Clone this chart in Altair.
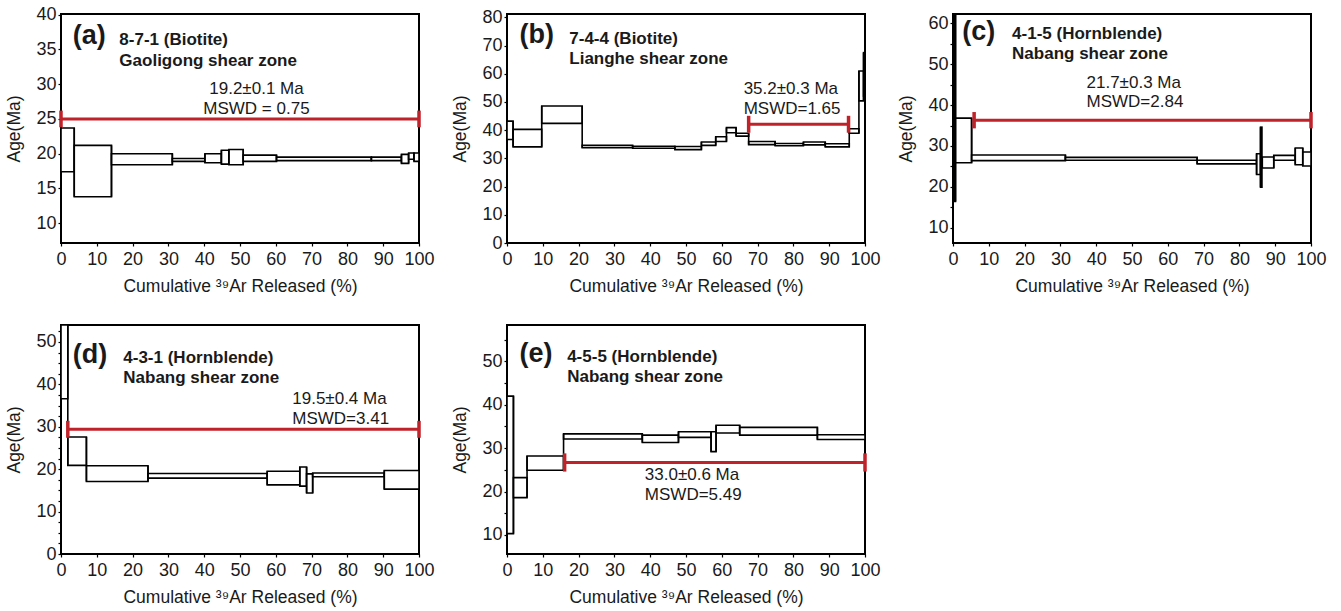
import altair as alt
import pandas as pd

FONT = "Liberation Sans"
RED = "#c0222a"
INK = "#1a1a1a"
X_TITLE = "Cumulative ³⁹Ar Released (%)"
Y_TITLE = "Age(Ma)"
PANEL_W = 358
PANEL_H = 229

# ---------------- (a) 8-7-1 biotite, Gaoligong shear zone ----------------
a_start = [0.0, 3.7, 14.1, 31.1, 40.2, 44.8, 46.9, 50.9, 60.2, 86.7, 95.1, 97.1, 98.6]
a_end = [3.7, 14.1, 31.1, 40.2, 44.8, 46.9, 50.9, 60.2, 86.7, 95.1, 97.1, 98.6, 100.0]
a_low = [17.4, 13.8, 18.4, 18.9, 18.7, 18.5, 18.4, 18.9, 19.0, 19.0, 18.6, 19.2, 18.9]
a_high = [23.7, 21.2, 20.0, 19.3, 20.0, 20.5, 20.6, 19.8, 19.5, 19.5, 19.9, 20.1, 20.1]
a_fill = ["white"] * 13

# ---------------- (b) 7-4-4 biotite, Lianghe shear zone ----------------
b_start = [0.0, 1.7, 9.7, 21.0, 35.1, 46.9, 54.3, 58.3, 61.3, 64.0, 67.5, 74.9, 82.8, 88.9, 95.6, 98.3, 99.6]
b_end = [1.7, 9.7, 21.0, 35.1, 46.9, 54.3, 58.3, 61.3, 64.0, 67.5, 74.9, 82.8, 88.9, 95.6, 98.3, 99.6, 100.0]
b_low = [36.7, 34.1, 42.4, 33.8, 33.6, 33.1, 34.6, 36.0, 39.1, 37.9, 34.9, 34.5, 34.8, 34.1, 38.9, 50.4, 52.1]
b_high = [43.2, 40.3, 48.6, 34.6, 34.3, 34.2, 35.8, 37.7, 40.9, 38.9, 36.0, 35.3, 35.8, 35.2, 40.5, 61.0, 67.5]
b_fill = ["white"] * 16 + ["black"]

# ---------------- (c) 4-1-5 hornblende, Nabang shear zone ----------------
c_start = [0.0, 0.7, 5.2, 31.4, 68.2, 84.8, 85.9, 86.4, 89.6, 95.6, 97.7]
c_end = [0.7, 5.2, 31.4, 68.2, 84.8, 85.9, 86.3, 89.6, 95.6, 97.7, 100.0]
c_low = [16.4, 25.9, 26.4, 26.5, 25.6, 23.0, 19.9, 24.6, 26.5, 25.4, 25.1]
c_high = [63.5, 36.8, 27.8, 27.2, 26.5, 28.1, 34.6, 27.3, 27.7, 29.5, 28.5]
c_fill = ["black", "white", "white", "white", "white", "white", "black", "white", "white", "white", "white"]

# ---------------- (d) 4-3-1 hornblende, Nabang shear zone ----------------
d_start = [0.0, 1.9, 7.1, 24.3, 57.6, 66.7, 68.6, 70.3, 90.3]
d_end = [1.9, 7.1, 24.3, 57.6, 66.7, 68.6, 70.3, 90.3, 100.0]
d_low = [36.6, 20.9, 17.1, 17.9, 16.3, 16.0, 14.4, 18.2, 15.3]
d_high = [54.0, 27.6, 20.8, 19.0, 19.5, 20.5, 18.9, 19.1, 19.7]
d_fill = ["white"] * 9

# ---------------- (e) 4-5-5 hornblende, Nabang shear zone ----------------
e_start = [0.0, 1.8, 5.6, 15.8, 37.8, 47.9, 57.0, 58.4, 65.0, 86.7]
e_end = [1.8, 5.6, 15.8, 37.8, 47.9, 57.0, 58.4, 65.0, 86.7, 100.0]
e_low = [10.3, 18.6, 24.9, 32.1, 31.3, 32.5, 29.2, 33.5, 33.0, 32.0]
e_high = [42.0, 23.2, 28.2, 33.3, 33.0, 33.8, 33.8, 35.3, 34.8, 33.1]
e_fill = ["white"] * 10

# plateau brackets: x from, x to, level, half cap height
plateaus = {
    "a": (0.0, 100.0, 25.0, 1.2),
    "b": (67.5, 95.4, 42.1, 3.0),
    "c": (5.9, 100.0, 36.3, 2.0),
    "d": (1.9, 100.0, 29.4, 2.0),
    "e": (16.1, 100.0, 26.7, 2.1),
}

# plateau age and MSWD text
results = {
    "a": (["19.2±0.1 Ma", "MSWD = 0.75"], 54.6, [29.3, 26.4], "center"),
    "b": (["35.2±0.3 Ma", "MSWD=1.65"], 66.1, [54.7, 47.6], "left"),
    "c": (["21.7±0.3 Ma", "MSWD=2.84"], 37.3, [45.5, 40.8], "left"),
    "d": (["19.5±0.4 Ma", "MSWD=3.41"], 64.6, [36.6, 31.8], "left"),
    "e": (["33.0±0.6 Ma", "MSWD=5.49"], 38.5, [23.8, 19.2], "left"),
}

# sample headings: letter x, letter y, heading x, heading line ys, lines
headings = {
    "a": (3.3, 36.9, 16.3, [36.4, 33.4], ["8-7-1 (Biotite)", "Gaoligong shear zone"]),
    "b": (3.5, 73.8, 17.4, [72.3, 65.2], ["7-4-4 (Biotite)", "Lianghe shear zone"]),
    "c": (2.6, 57.9, 16.5, [57.5, 52.4], ["4-1-5 (Hornblende)", "Nabang shear zone"]),
    "d": (3.3, 47.0, 17.4, [46.2, 41.5], ["4-3-1 (Hornblende)", "Nabang shear zone"]),
    "e": (3.5, 51.8, 16.8, [51.0, 46.4], ["4-5-5 (Hornblende)", "Nabang shear zone"]),
}

# y scale of each panel: domain, tick values, label every n
y_scales = {
    "a": ([7.15, 40.1], [10, 15, 20, 25, 30, 35, 40], 5),
    "b": ([0, 81.2], list(range(0, 81, 10)), 10),
    "c": ([6.24, 62.3], list(range(10, 61, 5)), 10),
    "d": ([0, 54.0], [i * 2.5 for i in range(22)], 10),
    "e": ([5.6, 58.4], list(range(10, 56, 5)), 10),
}

steps = {
    "a": (a_start, a_end, a_low, a_high, a_fill),
    "b": (b_start, b_end, b_low, b_high, b_fill),
    "c": (c_start, c_end, c_low, c_high, c_fill),
    "d": (d_start, d_end, d_low, d_high, d_fill),
    "e": (e_start, e_end, e_low, e_high, e_fill),
}


def connectors(start, end, low, high):
    """Vertical risers joining neighbouring heating steps."""
    rows = []
    for i in range(len(start) - 1):
        if abs(end[i] - start[i + 1]) < 1e-9:
            rows.append({
                "x": end[i],
                "lo": min(low[i], low[i + 1]),
                "hi": max(high[i], high[i + 1]),
            })
    return pd.DataFrame(rows)


def panel(key):
    start, end, low, high, fill = steps[key]
    ydom, yvals, every = y_scales[key]
    xs = alt.Scale(domain=[0, 100], nice=False, zero=False)
    ys = alt.Scale(domain=ydom, nice=False, zero=False)
    xax = alt.Axis(values=list(range(0, 101, 10)), title=X_TITLE)
    yax = alt.Axis(
        values=yvals,
        title=Y_TITLE,
        labelExpr=f"datum.value % {every} === 0 ? datum.label : ''",
    )

    def X(field):
        return alt.X(field, type="quantitative", scale=xs, axis=xax)

    def Y(field):
        return alt.Y(field, type="quantitative", scale=ys, axis=yax)

    boxes = pd.DataFrame({"x0": start, "x1": end, "lo": low, "hi": high, "fill": fill})
    spectrum = alt.Chart(boxes).mark_rect(stroke="black", strokeWidth=1.6, clip=True).encode(
        x=X("x0"), x2="x1", y=Y("lo"), y2="hi",
        fill=alt.Fill("fill:N", scale=None),
    )
    risers = alt.Chart(connectors(start, end, low, high)).mark_rule(
        color="black", strokeWidth=1.6, clip=True
    ).encode(x=X("x"), y=Y("lo"), y2="hi")

    p0, p1, py, ph = plateaus[key]
    plat = pd.DataFrame({"x0": [p0], "x1": [p1], "y": [py]})
    bar = alt.Chart(plat).mark_rule(color=RED, strokeWidth=3).encode(
        x=X("x0"), x2="x1", y=Y("y")
    )
    caps = pd.DataFrame({"x": [p0, p1], "lo": [py - ph] * 2, "hi": [py + ph] * 2})
    cap = alt.Chart(caps).mark_rule(color=RED, strokeWidth=3.5).encode(
        x=X("x"), y=Y("lo"), y2="hi"
    )

    lines, rx, rys, ralign = results[key]
    res = pd.DataFrame({"x": [rx] * len(lines), "y": rys, "t": lines})
    res_text = alt.Chart(res).mark_text(
        align=ralign, baseline="middle", font=FONT, fontSize=17, color=INK
    ).encode(x=X("x"), y=Y("y"), text="t:N")

    lx, ly, hx, hys, hlines = headings[key]
    let = pd.DataFrame({"x": [lx], "y": [ly], "t": [f"({key})"]})
    let_text = alt.Chart(let).mark_text(
        align="left", baseline="middle", font=FONT, fontSize=27, fontWeight="bold", color=INK
    ).encode(x=X("x"), y=Y("y"), text="t:N")
    head = pd.DataFrame({"x": [hx] * len(hlines), "y": hys, "t": hlines})
    head_text = alt.Chart(head).mark_text(
        align="left", baseline="middle", font=FONT, fontSize=17, fontWeight="bold", color=INK
    ).encode(x=X("x"), y=Y("y"), text="t:N")

    return alt.layer(spectrum, risers, bar, cap, res_text, let_text, head_text).properties(
        width=PANEL_W, height=PANEL_H
    )


chart = (
    alt.concat(
        *[panel(k) for k in ["a", "b", "c", "d", "e"]],
        columns=3,
        spacing={"row": 82, "column": 88},
        bounds="flush",
    )
    .properties(padding={"left": 4, "top": 4, "right": 5, "bottom": 5})
    .configure_view(stroke="black", strokeWidth=2)
    .configure_axis(
        labelFont=FONT,
        titleFont=FONT,
        labelFontSize=18,
        titleFontSize=17.5,
        titleFontWeight="normal",
        labelColor=INK,
        titleColor=INK,
        tickColor="black",
        tickSize=3,
        tickWidth=1.2,
        domain=False,
        grid=False,
        labelFlush=False,
        labelOverlap=False,
    )
    .configure_axisY(labelPadding=2, titlePadding=12)
    .configure_axisX(labelPadding=4, titlePadding=9)
)

chart.save("out.html", embed_options={"renderer": "svg", "actions": False})
